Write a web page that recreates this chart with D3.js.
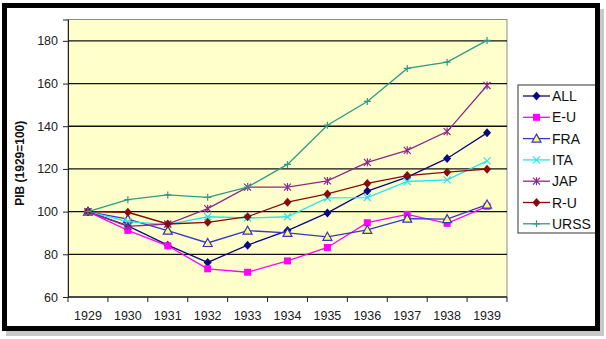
<!DOCTYPE html>
<html>
<head>
<meta charset="utf-8">
<script src="https://cdn.jsdelivr.net/npm/d3@7"></script>
<style>
  html, body { margin: 0; padding: 0; background: #ffffff; }
  svg { display: block; font-family: "Liberation Sans", Arial, sans-serif; }
</style>
</head>
<body>
<svg id="chart" width="606" height="339"></svg>
<script>
// Années (catégories de l'axe horizontal)
const years = ["1929", "1930", "1931", "1932", "1933", "1934", "1935", "1936", "1937", "1938", "1939"];

// Indice du PIB (1929 = 100) par pays
const ALL  = [100, 93.3, 84.3, 76.2, 84.3, 91.1, 99.4, 109.6, 116.2, 124.9, 136.9];
const EU   = [100, 91.2, 84.0, 73.2, 71.6, 76.9, 83.2, 94.8, 98.7, 94.5, 102.5];
const FRA  = [100, 96.5, 91.1, 85.3, 91.1, 90.0, 88.2, 91.4, 96.7, 96.5, 103.3];
const ITA  = [100, 95.3, 93.9, 97.6, 97.0, 97.6, 106.4, 106.6, 114.1, 114.9, 123.8];
const JAP  = [100, 93.1, 94.2, 101.4, 111.5, 111.5, 114.4, 123.1, 128.7, 137.5, 159.1];
const RU   = [100, 99.7, 94.2, 95.0, 97.6, 104.4, 108.3, 113.2, 116.9, 118.5, 119.9];
const URSS = [100, 105.6, 107.8, 106.7, 111.5, 122.1, 140.5, 151.6, 167.1, 170.0, 180.2];

// Graduations de l'axe vertical
const yTicks = [60, 80, 100, 120, 140, 160, 180];

const seriesNames = ["ALL", "E-U", "FRA", "ITA", "JAP", "R-U", "URSS"];
const seriesValues = [ALL, EU, FRA, ITA, JAP, RU, URSS];

const styles = {
  "ALL":  { color: "#0a0a80", marker: "diamond" },
  "E-U":  { color: "#ff00ff", marker: "square" },
  "FRA":  { color: "#3636c8", marker: "triangle" },
  "ITA":  { color: "#22e6f0", marker: "cross" },
  "JAP":  { color: "#8a2a8a", marker: "star" },
  "R-U":  { color: "#8a0a0a", marker: "circle" },
  "URSS": { color: "#2f9a86", marker: "plus" }
};

const svg = d3.select("#chart");

// Ombre portée du cadre
svg.append("rect").attr("x", 6).attr("y", 7).attr("width", 598).attr("height", 329)
  .attr("fill", "#c8c8c8").attr("filter", null);
svg.append("rect").attr("x", 2).attr("y", 3).attr("width", 598).attr("height", 328)
  .attr("fill", "#ffffff");

const plot = { left: 68, right: 507, top: 19.5, bottom: 297 };

const x = d3.scaleBand().domain(years).range([plot.left, plot.right]);
const y = d3.scaleLinear().domain([60, 190]).range([plot.bottom, plot.top]);

// Fond de la zone de traçage
svg.append("rect")
  .attr("x", plot.left).attr("y", plot.top)
  .attr("width", plot.right - plot.left).attr("height", plot.bottom - plot.top)
  .attr("fill", "#ffffcc").attr("stroke", "#8c8c8c").attr("stroke-width", 1);

// Quadrillage horizontal
svg.append("g").selectAll("line").data(yTicks.filter(d => d > 60)).join("line")
  .attr("x1", plot.left).attr("x2", plot.right)
  .attr("y1", d => y(d)).attr("y2", d => y(d))
  .attr("stroke", "#111").attr("stroke-width", 1.3);

// Axe vertical
const yAxis = d3.axisLeft(y).tickValues(yTicks).tickSize(5).tickPadding(5);
const gy = svg.append("g").attr("transform", `translate(${plot.left},0)`).call(yAxis);
gy.select(".domain").attr("stroke", "#222");
gy.selectAll(".tick line").attr("stroke", "#222");
gy.selectAll("text").attr("font-size", 12.5).attr("fill", "#222")
  .attr("font-family", "'Liberation Sans', Arial, sans-serif");

// Axe horizontal (graduations entre les catégories)
const gx = svg.append("g").attr("transform", `translate(0,${plot.bottom})`);
gx.append("line").attr("x1", plot.left).attr("x2", plot.right)
  .attr("stroke", "#222").attr("stroke-width", 1.3);
const boundaries = years.map(d => x(d)).concat([x(years[years.length - 1]) + x.bandwidth()]);
gx.selectAll("line.tk").data(boundaries).join("line").attr("class", "tk")
  .attr("x1", d => d).attr("x2", d => d).attr("y1", 0).attr("y2", 5)
  .attr("stroke", "#222");
gx.selectAll("text").data(years).join("text")
  .attr("x", d => x(d) + x.bandwidth() / 2).attr("y", 23)
  .attr("text-anchor", "middle").attr("font-size", 12.5).attr("fill", "#222")
  .text(d => d);

// Titre de l'axe vertical
svg.append("text")
  .attr("transform", `translate(24,${(plot.top + plot.bottom) / 2 + 5}) rotate(-90)`)
  .attr("text-anchor", "middle").attr("font-size", 12).attr("font-weight", "bold")
  .attr("fill", "#111").text("PIB (1929=100)");

// Symboles des séries
function drawMarker(g, type, color, cx, cy) {
  switch (type) {
    case "diamond":
      g.append("path").attr("d", `M${cx},${cy - 4.5}L${cx + 4},${cy}L${cx},${cy + 4.5}L${cx - 4},${cy}Z`)
        .attr("fill", color);
      break;
    case "square":
      g.append("rect").attr("x", cx - 3.5).attr("y", cy - 3.5).attr("width", 7).attr("height", 7)
        .attr("fill", color);
      break;
    case "triangle":
      g.append("path").attr("d", `M${cx},${cy - 4.5}L${cx + 4.5},${cy + 3.5}L${cx - 4.5},${cy + 3.5}Z`)
        .attr("fill", "#ffff66").attr("stroke", color).attr("stroke-width", 1.2);
      break;
    case "cross":
      g.append("path").attr("d", `M${cx - 3.5},${cy - 3.5}L${cx + 3.5},${cy + 3.5}M${cx - 3.5},${cy + 3.5}L${cx + 3.5},${cy - 3.5}`)
        .attr("stroke", color).attr("stroke-width", 1.2);
      break;
    case "star":
      g.append("path").attr("d", `M${cx - 3.5},${cy - 3.5}L${cx + 3.5},${cy + 3.5}M${cx - 3.5},${cy + 3.5}L${cx + 3.5},${cy - 3.5}M${cx},${cy - 4}L${cx},${cy + 4}`)
        .attr("stroke", color).attr("stroke-width", 1.2);
      break;
    case "circle":
      g.append("path").attr("d", `M${cx},${cy - 4.5}L${cx + 4},${cy}L${cx},${cy + 4.5}L${cx - 4},${cy}Z`)
        .attr("fill", color);
      break;
    case "plus":
      g.append("path").attr("d", `M${cx - 3.5},${cy}L${cx + 3.5},${cy}M${cx},${cy - 3.5}L${cx},${cy + 3.5}`)
        .attr("stroke", color).attr("stroke-width", 1.2);
      break;
  }
}

const line = d3.line()
  .x((d, i) => x(years[i]) + x.bandwidth() / 2)
  .y(d => y(d));

seriesNames.forEach((name, si) => {
  const st = styles[name];
  const vals = seriesValues[si];
  const g = svg.append("g");
  g.append("path").datum(vals).attr("d", line)
    .attr("fill", "none").attr("stroke", st.color).attr("stroke-width", 1.3);
  vals.forEach((v, i) => drawMarker(g, st.marker, st.color, x(years[i]) + x.bandwidth() / 2, y(v)));
});

// Légende
const legend = svg.append("g");
legend.append("rect").attr("x", 518).attr("y", 85).attr("width", 90).attr("height", 148)
  .attr("fill", "#ffffff").attr("stroke", "#333").attr("stroke-width", 1);
seriesNames.forEach((name, i) => {
  const st = styles[name];
  const ly = 96 + i * 21.3;
  legend.append("line").attr("x1", 523).attr("x2", 550).attr("y1", ly).attr("y2", ly)
    .attr("stroke", st.color).attr("stroke-width", 1.3);
  drawMarker(legend, st.marker, st.color, 536.5, ly);
  legend.append("text").attr("x", 552).attr("y", ly + 5).attr("font-size", 14)
    .attr("fill", "#111").text(name);
});

// Cadre noir de l'image
svg.append("rect").attr("x", 4.5).attr("y", 5.5).attr("width", 593).attr("height", 323)
  .attr("fill", "none").attr("stroke", "#000").attr("stroke-width", 5);
// masque à droite du cadre (légende tronquée)
svg.append("rect").attr("x", 600).attr("y", 0).attr("width", 6).attr("height", 339).attr("fill", "#ffffff");
svg.append("rect").attr("x", 600).attr("y", 9).attr("width", 4).attr("height", 327).attr("fill", "#c8c8c8");
</script>
</body>
</html>
